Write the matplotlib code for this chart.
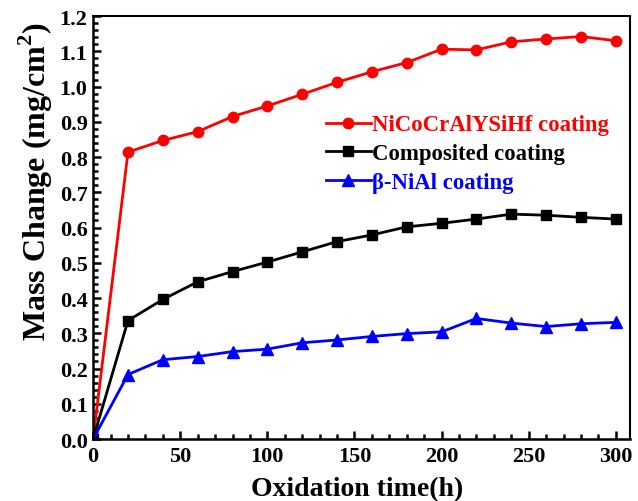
import matplotlib
matplotlib.use("Agg")
import matplotlib.pyplot as plt
from matplotlib.ticker import MultipleLocator, FormatStrFormatter

time_h = [0, 20, 40, 60, 80, 100, 120, 140, 160, 180, 200, 220, 240, 260, 280, 300]
nicocr = [0, 0.814, 0.847, 0.872, 0.915, 0.945, 0.978, 1.012, 1.042, 1.068, 1.106, 1.104, 1.127, 1.135, 1.142, 1.130]
composited = [0, 0.336, 0.396, 0.446, 0.475, 0.502, 0.531, 0.560, 0.579, 0.602, 0.612, 0.624, 0.638, 0.635, 0.629, 0.624]
nial = [0, 0.183, 0.225, 0.234, 0.248, 0.255, 0.273, 0.281, 0.291, 0.299, 0.304, 0.342, 0.329, 0.319, 0.327, 0.331]

labels = ["NiCoCrAlYSiHf coating", "Composited coating", "β-NiAl coating"]
colors = ["#ff0000", "#000000", "#0000ff"]

plt.rcParams['font.family'] = ['Liberation Serif', 'DejaVu Serif']
plt.rcParams['font.weight'] = 'bold'
plt.rcParams['mathtext.fontset'] = 'custom'
plt.rcParams['mathtext.bf'] = 'Liberation Serif:bold'
plt.rcParams['mathtext.rm'] = 'Liberation Serif:bold'

fig = plt.figure(figsize=(6.38, 5.02), dpi=100)
ax = fig.add_axes([0.146, 0.1235, 0.841, 0.8425])

ax.plot(time_h, nicocr, color=colors[0], marker='o', markersize=7.5, lw=2, label=labels[0])
ax.plot(time_h, composited, color=colors[1], marker='s', markersize=7, lw=2, label=labels[1])
ax.plot(time_h, nial, color=colors[2], marker='^', markersize=8, lw=2, label=labels[2])

ax.set_xlim(0, 308)
ax.set_ylim(0, 1.2)
ax.xaxis.set_major_locator(MultipleLocator(50))
ax.xaxis.set_minor_locator(MultipleLocator(10))
ax.yaxis.set_major_locator(MultipleLocator(0.1))
ax.yaxis.set_minor_locator(MultipleLocator(0.02))
ax.yaxis.set_major_formatter(FormatStrFormatter('%.1f'))

ax.tick_params(which='both', direction='in', top=False, right=False, width=1.8)
ax.tick_params(which='major', length=6, labelsize=16)
ax.tick_params(axis='x', which='major', pad=5)
ax.tick_params(axis='y', which='major', pad=4)
ax.tick_params(which='minor', length=3.5)
for lab in ax.get_xticklabels() + ax.get_yticklabels():
    lab.set_fontweight('bold')
for s in ax.spines.values():
    s.set_linewidth(1.8)
ax.spines['top'].set_linewidth(1.5)
ax.spines['right'].set_linewidth(1.5)

ax.set_xlabel("Oxidation time(h)", fontsize=20, fontweight='bold')
ax.xaxis.set_label_coords(0.492, -0.088)
ax.set_ylabel("Mass Change (mg/cm$^{\\mathbf{2}}$)", fontsize=23, fontweight='bold')
ax.yaxis.set_label_coords(-0.072, 0.61)

leg = ax.legend(loc='center left', bbox_to_anchor=(0.395, 0.674), frameon=False,
                handlelength=2.0, handletextpad=0.05, labelspacing=0.35,
                prop={'family': 'Liberation Serif', 'weight': 'bold', 'size': 16.4})
for txt, c in zip(leg.get_texts(), colors):
    txt.set_color(c)

fig.savefig("out.png", dpi=100)
